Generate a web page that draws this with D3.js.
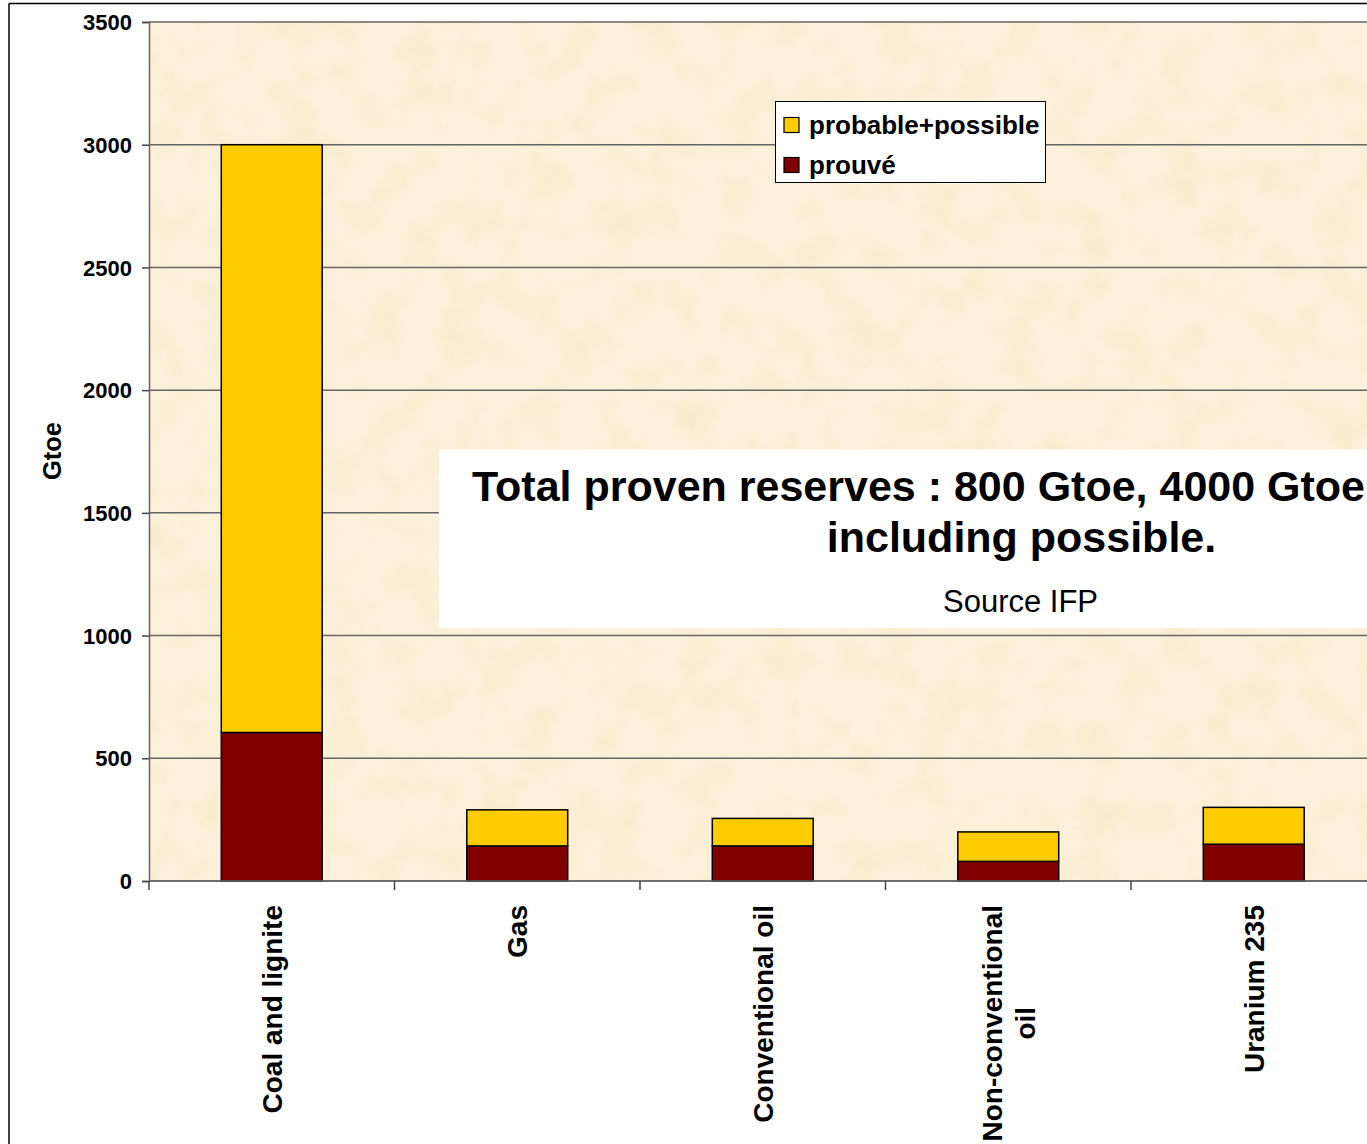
<!DOCTYPE html>
<html>
<head>
<meta charset="utf-8">
<script src="https://cdn.jsdelivr.net/npm/d3@7"></script>
<style>
  html, body { margin: 0; padding: 0; background: #ffffff; }
  svg { display: block; }
  text { font-family: "Liberation Sans", Arial, Helvetica, sans-serif; }
</style>
</head>
<body>
<svg id="chart" width="1367" height="1144"></svg>
<script>
// ---- data ----
const categories = ["Coal and lignite", "Gas", "Conventional oil", "Non-conventional oil", "Uranium 235"];
const categoryLabelLines = [["Coal and lignite"], ["Gas"], ["Conventional oil"], ["Non-conventional", "oil"], ["Uranium 235"]];
const prouve = [605, 143, 143, 80, 150];
const probablePossible = [2395, 147, 112, 120, 150];
const seriesKeys = ["prouve", "probable"];
const seriesNames = ["prouvé", "probable+possible"];
const seriesColors = ["#800000", "#FFCC00"];
const yTicks = [0, 500, 1000, 1500, 2000, 2500, 3000, 3500];
const yAxisTitle = "Gtoe";
const titleLines = ["Total proven reserves : 800 Gtoe, 4000 Gtoe", "including possible."];
const sourceText = "Source IFP";

// ---- layout ----
const W = 1367, H = 1144;
const plotLeft = 149, plotTop = 22, plotBottom = 881;
const step = 245.5;
const plotRight = plotLeft + step * categories.length;

const svg = d3.select("#chart");

const defs = svg.append("defs");
const filt = defs.append("filter").attr("id", "paper")
  .attr("x", 0).attr("y", 0).attr("width", "100%").attr("height", "100%");
filt.append("feTurbulence").attr("type", "fractalNoise").attr("baseFrequency", "0.025")
  .attr("numOctaves", 4).attr("seed", 7).attr("result", "noise");
filt.append("feColorMatrix").attr("type", "matrix")
  .attr("values", "0 0 0 0 0.90  0 0 0 0 0.80  0 0 0 0 0.55  1.8 0 0 0 -0.78");
filt.append("feComposite").attr("in2", "SourceGraphic").attr("operator", "in");

const x = d3.scaleBand().domain(categories).range([plotLeft, plotRight]).padding(0);
const xBar = d3.scaleBand().domain(categories).range([plotLeft, plotRight])
  .paddingInner(0.589).paddingOuter(0.2945);
const y = d3.scaleLinear().domain([0, 3500]).range([plotBottom, plotTop]);

// outer chart border (left and top)
svg.append("line").attr("x1", 9).attr("x2", 9).attr("y1", 3.5).attr("y2", H)
  .attr("stroke", "#000").attr("stroke-width", 1.5);
svg.append("line").attr("x1", 9).attr("x2", W).attr("y1", 3.5).attr("y2", 3.5)
  .attr("stroke", "#000").attr("stroke-width", 1.5);

// plot background
svg.append("rect").attr("x", plotLeft).attr("y", plotTop)
  .attr("width", W - plotLeft).attr("height", plotBottom - plotTop)
  .attr("fill", "#FCF0DA");
svg.append("rect").attr("x", plotLeft).attr("y", plotTop)
  .attr("width", W - plotLeft).attr("height", plotBottom - plotTop)
  .attr("fill", "#FCF0DA").attr("filter", "url(#paper)").attr("opacity", 0.6);

// gridlines
svg.append("g").selectAll("line").data(yTicks).join("line")
  .attr("x1", plotLeft).attr("x2", W)
  .attr("y1", d => y(d)).attr("y2", d => y(d))
  .attr("stroke", "#666").attr("stroke-width", 1.5);

// bars
const rows = categories.map((c, i) => ({ cat: c, prouve: prouve[i], probable: probablePossible[i] }));
const stack = d3.stack().keys(seriesKeys)(rows);
svg.append("g").selectAll("g").data(stack).join("g")
  .attr("fill", (d, i) => seriesColors[i])
  .selectAll("rect").data(d => d).join("rect")
  .attr("x", d => xBar(d.data.cat))
  .attr("width", xBar.bandwidth())
  .attr("y", d => y(d[1]))
  .attr("height", d => y(d[0]) - y(d[1]))
  .attr("stroke", "#000").attr("stroke-width", 1.5);

// y axis
const yAxis = d3.axisLeft(y).tickValues(yTicks).tickSize(7).tickPadding(10).tickFormat(d3.format("d"));
const gy = svg.append("g").attr("transform", `translate(${plotLeft},0)`).call(yAxis);
gy.select(".domain").attr("stroke", "#666").attr("stroke-width", 1.5);
gy.selectAll(".tick line").attr("stroke", "#444").attr("stroke-width", 1.5);
gy.selectAll(".tick text").attr("font-size", 22).attr("font-weight", "bold")
  .attr("fill", "#000").attr("font-family", "'Liberation Sans', Arial, sans-serif")
  .attr("dy", "0.35em");

// x axis: ticks at category boundaries
const boundaries = categories.map(c => x(c)).concat([plotRight]);
svg.append("line").attr("x1", plotLeft).attr("x2", W).attr("y1", plotBottom).attr("y2", plotBottom)
  .attr("stroke", "#666").attr("stroke-width", 1.5);
svg.append("g").selectAll("line").data(boundaries.filter(b => b <= W)).join("line")
  .attr("x1", d => d).attr("x2", d => d).attr("y1", plotBottom).attr("y2", plotBottom + 9)
  .attr("stroke", "#444").attr("stroke-width", 1.5);

// category labels (rotated)
const labFont = 28;
const lg = svg.append("g").selectAll("g").data(categories).join("g")
  .attr("transform", d => `translate(${x(d) + x.bandwidth() / 2},905) rotate(-90)`);
lg.each(function (d, i) {
  const g = d3.select(this);
  const lines = categoryLabelLines[i];
  const n = lines.length;
  const lh = 33;
  const texts = g.selectAll("text").data(lines).join("text")
    .attr("font-size", labFont).attr("font-weight", "bold").attr("fill", "#000")
    .attr("y", (t, j) => (j - (n - 1) / 2) * lh)
    .attr("dy", "0.35em")
    .text(t => t);
  let maxL = 0;
  texts.each(function () { maxL = Math.max(maxL, this.getComputedTextLength()); });
  texts.attr("text-anchor", "middle").attr("x", -maxL / 2);
});

// y axis title
svg.append("text").attr("transform", "translate(52,451) rotate(-90)")
  .attr("text-anchor", "middle").attr("dy", "0.35em")
  .attr("font-size", 25.5).attr("font-weight", "bold").attr("fill", "#000")
  .text(yAxisTitle);

// legend
const lgBox = svg.append("g");
lgBox.append("rect").attr("x", 775.5).attr("y", 101.5).attr("width", 270).attr("height", 81)
  .attr("fill", "#fff").attr("stroke", "#000").attr("stroke-width", 1);
const legendOrder = [1, 0];
legendOrder.forEach((si, k) => {
  const cy = 125 + k * 40;
  lgBox.append("rect").attr("x", 784).attr("y", cy - 7.5).attr("width", 15).attr("height", 15)
    .attr("fill", seriesColors[si]).attr("stroke", "#000").attr("stroke-width", 1.2);
  lgBox.append("text").attr("x", 809).attr("y", cy + 8.5)
    .attr("font-size", 26).attr("font-weight", "bold").attr("fill", "#000")
    .text(seriesNames[si]);
});

// title box
svg.append("rect").attr("x", 439).attr("y", 449.5).attr("width", W - 439).attr("height", 178.5)
  .attr("fill", "#ffffff");
svg.append("text").attr("x", 472).attr("y", 501)
  .attr("font-size", 43).attr("font-weight", "bold").attr("fill", "#000")
  .text(titleLines[0]);
svg.append("text").attr("x", 1021.5).attr("y", 552).attr("text-anchor", "middle")
  .attr("font-size", 43).attr("font-weight", "bold").attr("fill", "#000")
  .text(titleLines[1]);
svg.append("text").attr("x", 1020.5).attr("y", 612).attr("text-anchor", "middle")
  .attr("font-size", 31).attr("fill", "#000")
  .text(sourceText);
</script>
</body>
</html>
